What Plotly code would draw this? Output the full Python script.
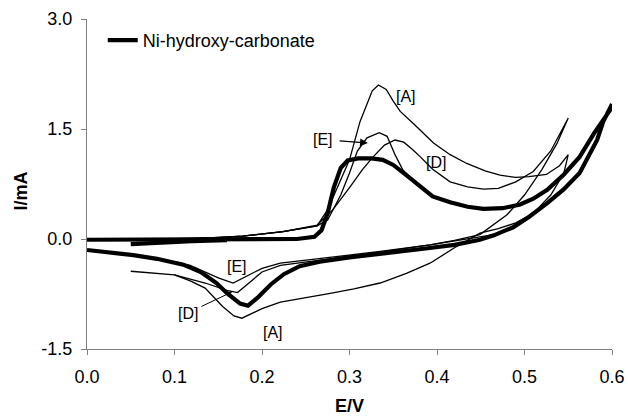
import plotly.graph_objects as go

# ---- data (E in V, I in mA) ----
nhc_E = [0.05, 0.08, 0.12, 0.16, None,
         0.0, 0.05, 0.10, 0.15, 0.20, 0.24, 0.26, 0.268, 0.275, 0.282, 0.29, 0.298, 0.31, 0.325,
         0.338, 0.35, 0.366, 0.38, 0.395, 0.415, 0.435, 0.453, 0.475, 0.495, 0.51, 0.526, 0.545,
         0.563, 0.58, 0.598, 0.6,
         0.59, 0.583, 0.563, 0.545, 0.526, 0.505, 0.487, 0.465, 0.449, 0.42, 0.38, 0.34, 0.30,
         0.266, 0.243, 0.225, 0.21, 0.195, 0.184, 0.175, 0.16, 0.148, 0.13, 0.11, 0.08, 0.053,
         0.025, 0.0]
nhc_I = [-0.07, -0.05, -0.03, -0.015, None,
         -0.01, -0.01, -0.01, -0.01, -0.01, 0.0, 0.03, 0.12, 0.35, 0.70, 0.97, 1.07, 1.10, 1.10,
         1.08, 1.01, 0.86, 0.72, 0.58, 0.50, 0.44, 0.41, 0.42, 0.47, 0.55, 0.67, 0.88,
         1.12, 1.45, 1.76, 1.84,
         1.60, 1.35, 0.90, 0.68, 0.49, 0.30, 0.16, 0.05, -0.01, -0.08, -0.14, -0.19, -0.25,
         -0.31, -0.37, -0.48, -0.62, -0.80, -0.91, -0.88, -0.74, -0.60, -0.45, -0.35, -0.27, -0.22,
         -0.18, -0.15]

A_E = [0.10, 0.15, 0.178, 0.224, 0.263, 0.275, 0.288, 0.30, 0.312, 0.32, 0.326, 0.333, 0.338,
       0.342, 0.35, 0.358, 0.375, 0.396, 0.415, 0.434, 0.455, 0.472, 0.49, 0.505, 0.525, 0.54, 0.55,
       0.545, 0.53, 0.51, 0.49, 0.47, 0.449, 0.42, 0.392, 0.365, 0.335, 0.305, 0.278, 0.25,
       0.221, 0.20, 0.186, 0.177, 0.168, 0.155, 0.135, 0.118, 0.10]
A_I = [-0.01, 0.02, 0.04, 0.10, 0.18, 0.40, 0.75, 1.08, 1.60, 1.85, 2.02, 2.10, 2.06,
       2.04, 1.88, 1.74, 1.55, 1.31, 1.15, 1.03, 0.93, 0.87, 0.84, 0.85, 0.88, 1.00, 1.15,
       0.90, 0.60, 0.35, 0.22, 0.14, 0.08, -0.12, -0.33, -0.47, -0.60, -0.68, -0.74, -0.80,
       -0.86, -0.95, -1.03, -1.08, -1.05, -0.92, -0.67, -0.57, -0.49]

D_E = [0.05, 0.10, 0.15, 0.178, 0.224, 0.263, 0.281, 0.30, 0.315, 0.327, 0.34, 0.352, 0.362,
       0.372, 0.381, 0.395, 0.415, 0.435, 0.453, 0.47, 0.49, 0.51, 0.53, 0.55,
       0.537, 0.52, 0.50, 0.48, 0.46, 0.449, 0.42, 0.392, 0.335, 0.29, 0.26, 0.221, 0.20,
       0.185, 0.172, 0.16, 0.135, 0.10, 0.05]
D_I = [-0.01, 0.0, 0.02, 0.04, 0.10, 0.19, 0.40, 0.70, 0.95, 1.12, 1.28, 1.35, 1.32,
       1.22, 1.12, 0.95, 0.78, 0.71, 0.68, 0.69, 0.78, 0.92, 1.20, 1.65,
       1.30, 0.95, 0.60, 0.33, 0.15, 0.06, -0.02, -0.08, -0.18, -0.25, -0.30, -0.36, -0.45,
       -0.60, -0.73, -0.70, -0.60, -0.49, -0.44]

E_E = [0.10, 0.15, 0.178, 0.224, 0.263, 0.275, 0.29, 0.30, 0.309, 0.32, 0.334, 0.343, 0.352,
       0.361, 0.37, 0.38, 0.395, 0.415, 0.435, 0.453, 0.475, 0.495, 0.51, 0.526, 0.545, 0.563,
       0.58, 0.598, 0.6,
       0.59, 0.583, 0.563, 0.545, 0.526, 0.505, 0.487, 0.465, 0.449, 0.392, 0.335, 0.258,
       0.221, 0.20, 0.183, 0.167, 0.15, 0.135, 0.118, 0.10]
E_I = [-0.01, 0.02, 0.04, 0.10, 0.18, 0.26, 0.60, 0.90, 1.20, 1.38, 1.45, 1.40, 1.15,
       0.94, 0.84, 0.72, 0.58, 0.50, 0.44, 0.41, 0.42, 0.47, 0.55, 0.67, 0.88, 1.12,
       1.45, 1.76, 1.83,
       1.60, 1.35, 0.90, 0.68, 0.49, 0.30, 0.16, 0.06, 0.03, -0.08, -0.17, -0.28,
       -0.33, -0.40, -0.50, -0.60, -0.53, -0.45, -0.36, -0.31]

x_ticks = [0.0, 0.1, 0.2, 0.3, 0.4, 0.5, 0.6]
y_ticks = [-1.5, 0.0, 1.5, 3.0]

FONT = "Liberation Sans, Arial, sans-serif"

fig = go.Figure()
for ex, iy in [(A_E, A_I), (D_E, D_I), (E_E, E_I)]:
    fig.add_trace(go.Scatter(x=ex, y=iy, mode="lines", showlegend=False,
                             line=dict(color="black", width=1.3), hoverinfo="skip"))
fig.add_trace(go.Scatter(x=nhc_E, y=nhc_I, mode="lines", name="Ni-hydroxy-carbonate",
                         line=dict(color="black", width=4.2)))

labels = [("[A]", 0.365, 1.94), ("[E]", 0.270, 1.36), ("[D]", 0.399, 1.04),
          ("[E]", 0.171, -0.38), ("[D]", 0.115, -1.01), ("[A]", 0.213, -1.27)]
ann = []
for t, x, y in labels:
    ann.append(dict(text=t, x=x, y=y, xref="x", yref="y", showarrow=False,
                    xanchor="center", yanchor="middle",
                    font=dict(size=16, color="black", family=FONT)))
# arrows
ann.append(dict(text="", x=0.321, y=1.31, ax=0.287, ay=1.34, xref="x", yref="y",
                axref="x", ayref="y", showarrow=True, arrowhead=2, arrowsize=1.3,
                arrowwidth=1.2, arrowcolor="black"))
ann.append(dict(text="", x=0.166, y=-0.72, ax=0.129, ay=-0.93, xref="x", yref="y",
                axref="x", ayref="y", showarrow=True, arrowhead=2, arrowsize=1.2,
                arrowwidth=1.0, arrowcolor="black"))
# axis titles
ann.append(dict(text="<b>I/mA</b>", x=-0.126, y=0.48, xref="paper", yref="paper",
                xanchor="center", yanchor="middle",
                showarrow=False, textangle=-90, font=dict(size=18, color="black", family=FONT)))
ann.append(dict(text="<b>E/V</b>", x=0.5, y=-0.172, xref="paper", yref="paper",
                xanchor="center", yanchor="middle", borderpad=0,
                showarrow=False, font=dict(size=18, color="black", family=FONT)))

fig.update_layout(
    width=628, height=418,
    margin=dict(l=87, r=16, t=19, b=69, autoexpand=False),
    paper_bgcolor="white", plot_bgcolor="white",
    font=dict(family=FONT, size=18, color="black"),
    annotations=ann,
    showlegend=True,
    legend=dict(x=0.03, y=0.935, xanchor="left", yanchor="middle",
                bgcolor="rgba(0,0,0,0)", font=dict(size=18, family=FONT, color="black")),
    xaxis=dict(range=[0, 0.6], tickvals=x_ticks, ticktext=[f"{v:.1f}" for v in x_ticks],
               showgrid=False, zeroline=False, showline=True, linecolor="#808080", linewidth=1,
               ticks="outside", ticklen=5, tickcolor="#808080", tickfont=dict(size=18),
               automargin=False, ticklabelstandoff=6),
    yaxis=dict(range=[-1.5, 3.0], tickvals=y_ticks, ticktext=[f"{v:.1f}" for v in y_ticks],
               showgrid=False, zeroline=False, showline=True, linecolor="#808080", linewidth=1,
               ticks="outside", ticklen=5, tickcolor="#808080", tickfont=dict(size=18),
               automargin=False, ticklabelstandoff=5),
)

fig.write_html("out.html")
